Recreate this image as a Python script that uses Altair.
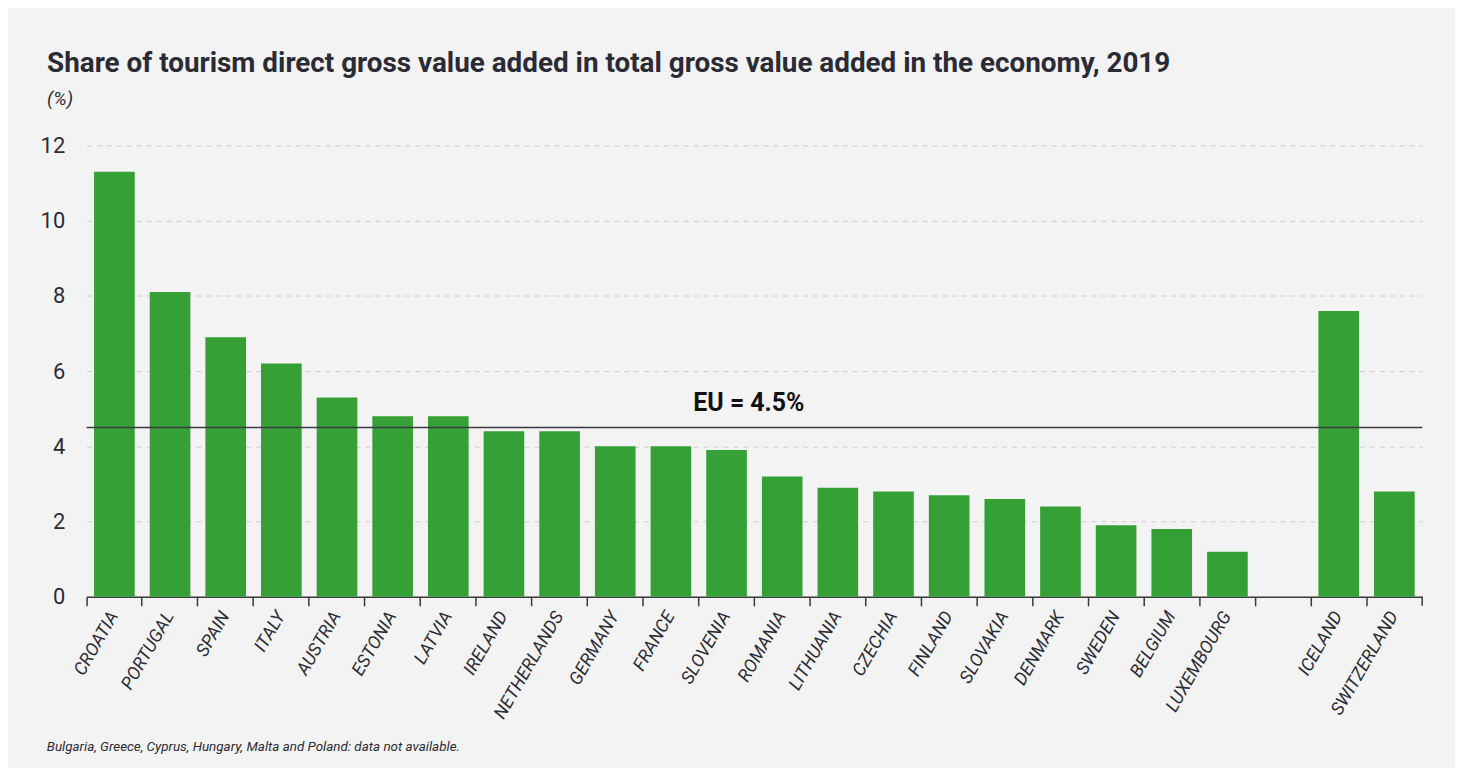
import altair as alt
import pandas as pd

countries = ["CROATIA", "PORTUGAL", "SPAIN", "ITALY", "AUSTRIA", "ESTONIA", "LATVIA",
             "IRELAND", "NETHERLANDS", "GERMANY", "FRANCE", "SLOVENIA", "ROMANIA",
             "LITHUANIA", "CZECHIA", "FINLAND", "SLOVAKIA", "DENMARK", "SWEDEN",
             "BELGIUM", "LUXEMBOURG", " ", "ICELAND", "SWITZERLAND"]
values = [11.3, 8.1, 6.9, 6.2, 5.3, 4.8, 4.8, 4.4, 4.4, 4.0, 4.0, 3.9, 3.2,
          2.9, 2.8, 2.7, 2.6, 2.4, 1.9, 1.8, 1.2, None, 7.6, 2.8]
eu_value = [4.5]
eu_label = ["EU = 4.5%"]
y_ticks = [0, 2, 4, 6, 8, 10, 12]
title_text = "Share of tourism direct gross value added in total gross value added in the economy, 2019"
subtitle_text = "(%)"
footnote = ["Bulgaria, Greece, Cyprus, Hungary, Malta and Poland: data not available."]

W, H = 1343, 454
FONT = "Roboto, sans-serif"
TXT = "#2b2b36"

df = pd.DataFrame({"country": countries, "value": values})
eu_df = pd.DataFrame({"eu": eu_value, "label": eu_label})
fn_df = pd.DataFrame({"note": footnote})

x_enc = alt.X("country:N", sort=countries,
              scale=alt.Scale(domain=countries, paddingInner=0, paddingOuter=0),
              axis=alt.Axis(title=None, labelAngle=-60, labelFont=FONT, labelFontSize=18,
                            labelFontStyle="italic", labelColor=TXT, labelPadding=7,
                            bandPosition=0, ticks=True, tickSize=9, tickColor="#3a3a3a",
                            tickWidth=1.5, domainColor="#3a3a3a", domainWidth=1.5,
                            grid=False, labelOverlap=False))
y_scale = alt.Scale(domain=[0, 12], nice=False)

bars = alt.Chart(df).mark_bar(color="#35a035", width=alt.RelativeBandSize(0.73)).encode(
    x=x_enc,
    y=alt.Y("value:Q", scale=y_scale,
            axis=alt.Axis(title=None, values=y_ticks, labelFont=FONT, labelFontSize=22,
                          labelColor=TXT, labelPadding=22, ticks=False, domain=False,
                          grid=True, gridDash=[5, 5], gridColor="#cccccc", gridWidth=1)),
)

eu_rule = alt.Chart(eu_df).mark_rule(color="#3a3a44", strokeWidth=1.5).encode(
    y=alt.Y("eu:Q", scale=y_scale)
)
eu_text = alt.Chart(eu_df).mark_text(font=FONT, fontSize=25, fontWeight="bold", color="#111111",
                                      baseline="middle", align="center", dy=-25).encode(
    y=alt.Y("eu:Q", scale=y_scale), x=alt.value(666), text="label:N"
)
end_tick = alt.Chart(eu_df).mark_rule(color="#3a3a3a", strokeWidth=1.5).encode(
    x=alt.value(W), y=alt.value(H), y2=alt.value(H + 9)
)
note = alt.Chart(fn_df).mark_text(font=FONT, fontSize=13.5, fontStyle="italic", color=TXT,
                                   align="left", baseline="middle").encode(
    x=alt.value(-40), y=alt.value(605), text="note:N"
)

chart = alt.layer(bars, eu_rule, eu_text, end_tick, note).properties(
    width=W, height=H,
    title=alt.Title(title_text, subtitle=subtitle_text, anchor="start", offset=26, dx=7,
                    font=FONT, fontSize=28, fontWeight="bold", color=TXT,
                    subtitleFont=FONT, subtitleFontSize=19, subtitleFontStyle="italic",
                    subtitleColor=TXT, subtitlePadding=12),
    background="#f3f3f3",
    padding={"left": 79, "top": 136, "right": 33, "bottom": 170},
    autosize=alt.AutoSizeParams(type="none"),
).configure_view(stroke=None)

chart.save("out.html", embed_options={"renderer": "svg", "actions": False})
